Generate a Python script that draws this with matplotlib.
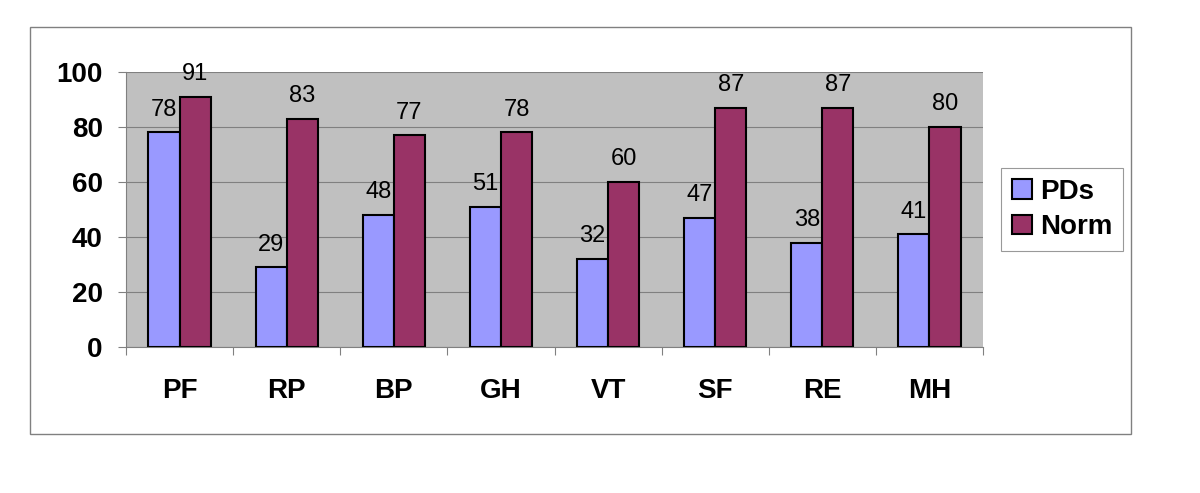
import matplotlib
matplotlib.use('Agg')
import matplotlib.pyplot as plt
import numpy as np
from matplotlib.patches import Rectangle

plt.rcParams['font.family'] = ['Liberation Sans', 'DejaVu Sans']

categories = ['PF', 'RP', 'BP', 'GH', 'VT', 'SF', 'RE', 'MH']
pds = [78, 29, 48, 51, 32, 47, 38, 41]
norm = [91, 83, 77, 78, 60, 87, 87, 80]

fig = plt.figure(figsize=(12, 4.93), dpi=100)
ax = fig.add_axes([0.105, 0.296, 0.7142, 0.558])

# outer chart border
fig.patches.append(Rectangle((0.025, 0.12), 0.9175, 0.825, transform=fig.transFigure,
                             fill=False, edgecolor='#808080', linewidth=1.0))

x = np.arange(len(categories))
w = 0.29
b1 = ax.bar(x - w / 2, pds, w, color='#9999FF', edgecolor='black', linewidth=1.5, label='PDs', zorder=3)
b2 = ax.bar(x + w / 2, norm, w, color='#993366', edgecolor='black', linewidth=1.5, label='Norm', zorder=3)

for bars in (b1, b2):
    for r in bars:
        ax.annotate(f'{r.get_height():.0f}', (r.get_x() + r.get_width() / 2, r.get_height()),
                    xytext=(0, 12), textcoords='offset points',
                    ha='center', va='baseline', fontsize=17, annotation_clip=False)

ax.set_facecolor('#C0C0C0')
ax.set_xlim(-0.5, len(categories) - 0.5)
ax.set_ylim(0, 100)
ax.set_yticks(range(0, 101, 20))
ax.set_yticklabels([str(v) for v in range(0, 101, 20)], fontsize=20, fontweight='bold')
ax.yaxis.grid(True, color='#808080', linewidth=0.8, zorder=0)
ax.set_axisbelow(True)

ax.set_xticks(np.arange(-0.5, len(categories)))
ax.set_xticklabels([])
ax.set_xticks(x, minor=True)
ax.set_xticklabels(categories, minor=True, fontsize=20, fontweight='bold')
ax.tick_params(axis='x', which='minor', length=0, pad=22)
ax.tick_params(axis='x', which='major', length=5.8, color='#808080')
ax.tick_params(axis='y', length=5.8, color='#808080', pad=11)

for s in ax.spines.values():
    s.set_color('#808080')
    s.set_linewidth(0.8)
ax.spines['top'].set_visible(False)
ax.spines['right'].set_visible(False)

leg = ax.legend(loc='center left', bbox_to_anchor=(1.021, 0.5), frameon=True, fancybox=False,
                edgecolor='#808080', prop={'weight': 'bold', 'size': 20},
                handlelength=0.7, handleheight=0.7, handletextpad=0.3, borderpad=0.4,
                borderaxespad=0, labelspacing=0.35)
leg.get_frame().set_linewidth(0.8)

plt.savefig('out.png', dpi=100)
plt.close()
